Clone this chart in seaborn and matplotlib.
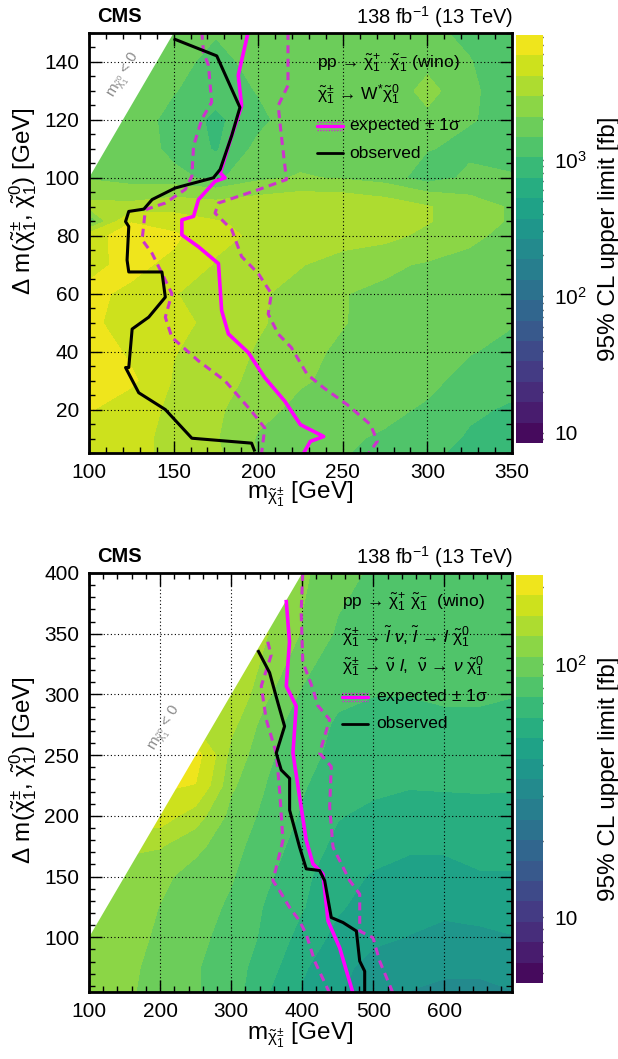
import numpy as np
import matplotlib
matplotlib.use("Agg")
import matplotlib.pyplot as plt
import seaborn as sns
from matplotlib.colors import LogNorm
from matplotlib.ticker import MultipleLocator, FixedLocator, LogLocator, NullFormatter

# ---------------- upper panel: chi+- -> W* chi0 ----------------
top_mass = [100, 125, 150, 175, 200, 225, 250, 275, 300, 325, 350]
top_dm = [5, 10, 20, 30, 40, 50, 60, 70, 80, 85, 90, 100, 110, 120, 130, 140, 150]
top_limit = [
    [4900, 4500, 3800, 3100, 2000, 1700, 1500, 1350, 1150, 900, 850],
    [4900, 4500, 3800, 3000, 2000, 1700, 1550, 1400, 1200, 1000, 900],
    [6000, 4700, 3900, 3100, 2300, 1900, 1700, 1600, 1400, 1100, 1000],
    [8000, 6200, 4000, 3400, 2600, 2150, 1900, 1750, 1600, 1300, 1150],
    [7400, 5400, 4200, 3600, 2800, 2200, 2000, 1850, 1700, 1500, 1350],
    [6200, 5100, 4500, 3800, 3100, 2350, 2100, 1900, 1750, 1650, 1500],
    [6200, 5500, 4200, 3600, 3100, 2500, 2100, 1950, 1800, 1700, 1550],
    [5400, 6300, 5400, 4000, 3500, 3000, 2400, 2200, 2000, 1900, 1750],
    [4900, 7000, 6200, 4500, 3900, 3800, 3500, 3200, 2700, 2200, 1900],
    [1200, 5700, 4900, 4200, 3900, 4000, 3800, 3500, 3000, 2400, 2000],
    [3200, 3200, 3600, 3400, 3600, 3800, 3800, 3500, 3000, 2400, 2000],
    [2000, 1750, 1600, 1350, 1900, 2150, 2000, 1750, 1200, 1600, 1500],
    [1900, 1750, 1350, 1000, 1600, 1750, 1600, 2000, 1500, 1350, 1350],
    [1900, 1750, 1300, 950, 1350, 1750, 1600, 1900, 1900, 1500, 1350],
    [1900, 1750, 1500, 1200, 1500, 1600, 1500, 1600, 2300, 1600, 1100],
    [1900, 1900, 1600, 1350, 1600, 1600, 1600, 1500, 1900, 1500, 1100],
    [1900, 1900, 1750, 1500, 1750, 1750, 1600, 1600, 1600, 1350, 1200],
]
top_obs_mass = [150, 175.5, 189.2, 184.3, 177.5, 173.5, 151, 137.3, 132.4, 123.5, 121.6, 123.5,
                122.5, 123.5, 143.1, 145.1, 135.3, 125.5, 123.5, 121.6, 129.4, 145.1, 160.8, 196.1, 198]
top_obs_dm = [148, 142.1, 124.3, 114.5, 102.9, 100, 96.5, 92.5, 89.2, 88.4, 84.9, 83.2,
              71.6, 67.5, 67.5, 58.8, 51.9, 47.8, 34.5, 34.5, 25.8, 20, 10.1, 8.4, 5.5]
top_exp_mass = [194.1, 188.2, 190.2, 184.3, 177.5, 180.4, 174.5, 164.7, 161.8, 154.9, 154.9, 164.7,
                176.5, 178.4, 182.4, 194.1, 203.9, 215.7, 224.9, 238.7, 230.8, 226.9]
top_exp_dm = [150.4, 135.4, 124.9, 114.5, 101.7, 100, 98.8, 92.5, 86.7, 85.5, 80.3, 76.2,
              70.4, 54.2, 46.1, 39.7, 31, 22.9, 14.8, 10.7, 9, 5]
top_explo_mass = [166.7, 167.6, 170.6, 172.5, 166.7, 161.8, 160.8, 156.9, 145.1, 133.3, 131.4, 137.3,
                  149, 145.1, 149, 164.7, 180.4, 196.1, 203.9, 202]
top_explo_dm = [150.4, 143.5, 138.8, 126.1, 120.3, 111, 100.6, 96, 91.3, 89, 78.6, 73.9,
                60, 51.9, 44.9, 36.8, 29.9, 19.4, 13.6, 5]
top_exphi_mass = [217.6, 217.6, 211.8, 213.7, 216.7, 200, 176.5, 174.5, 184.3, 190.2, 200, 207.8,
                  205.9, 211.8, 219.6, 228.9, 238.7, 252.6, 266.4, 270.4, 265.4]
top_exphi_dm = [150.4, 131.9, 124.9, 114.5, 99.4, 95.9, 91.3, 87.8, 82.2, 72.8, 67, 60,
                53, 46.1, 41.4, 32.2, 27.5, 21.7, 14.8, 9, 5]

# ---------------- lower panel: slepton-mediated ----------------
bot_mass = [100, 150, 200, 250, 300, 350, 400, 450, 500, 550, 600, 650, 700]
bot_dm = [55, 75, 100, 125, 150, 175, 200, 225, 250, 275, 300, 350, 400]
bot_limit = [
    [115, 110, 100, 90, 80, 62, 50, 43, 37, 35, 34, 34, 35],
    [120, 112, 100, 90, 80, 66, 52, 45, 39, 37, 36, 36, 37],
    [125, 118, 102, 92, 84, 70, 57, 48, 44, 42, 40, 40, 42],
    [125, 122, 106, 96, 86, 72, 62, 52, 47, 45, 44, 46, 46],
    [125, 125, 112, 98, 90, 76, 64, 54, 50, 48, 48, 50, 50],
    [130, 130, 130, 112, 94, 80, 68, 58, 54, 52, 52, 54, 54],
    [170, 170, 170, 140, 100, 84, 72, 62, 58, 56, 58, 59, 58],
    [190, 190, 190, 185, 110, 88, 75, 66, 64, 62, 62, 62, 62],
    [200, 200, 200, 200, 120, 92, 78, 70, 66, 64, 66, 66, 64],
    [150, 150, 150, 150, 135, 96, 80, 72, 70, 70, 70, 70, 70],
    [150, 150, 150, 150, 150, 110, 86, 76, 74, 74, 76, 76, 74],
    [130, 130, 130, 130, 130, 130, 105, 86, 80, 78, 78, 80, 78],
    [110, 110, 110, 110, 110, 110, 110, 95, 86, 84, 84, 84, 80],
]
bot_obs_mass = [337.4, 354, 365.7, 375.1, 363.4, 370.4, 382.2, 382.2, 396.2, 405.6, 424.4, 431.5,
                440.8, 457.3, 476.1, 480.8, 487.8, 487.8]
bot_obs_dm = [336.5, 318, 293.1, 273.8, 251.7, 237.8, 230.9, 204.7, 174.3, 156.4, 155, 146.7,
              116.3, 112.2, 105.2, 80.4, 72.1, 54]
bot_exp_mass = [377.3, 382, 377.5, 391.5, 386.9, 396.2, 405.6, 415, 429.1, 436.2, 452.6, 471.4]
bot_exp_dm = [377.9, 343.4, 306.9, 290.3, 251.7, 215.7, 179.8, 160.5, 152.2, 113.5, 91.4, 54]
bot_explo_mass = [351.5, 356.2, 342.3, 349.3, 363.4, 368.1, 372.8, 358.7, 368.1, 382.2, 396.2,
                  405.6, 417.4, 438.5]
bot_explo_dm = [343.4, 332.3, 306.9, 279.3, 251.7, 221.3, 179.8, 146.7, 138.4, 124.6, 113.5,
                102.5, 80.4, 54]
bot_exphi_mass = [400.7, 398.4, 400.7, 414.8, 421.8, 438.5, 424.4, 440.8, 438.5, 443.2, 466.7,
                  480.8, 480.8, 499.5, 508.9, 527.7]
bot_exphi_dm = [400, 368.3, 326.8, 304.7, 290.9, 279.3, 251.7, 240.6, 207.5, 174.3, 146.7,
                135.6, 105.2, 99.7, 80.4, 54]

# ---------------- style ----------------
sns.set_style("ticks")
plt.rcParams['font.family'] = ['Liberation Sans', 'DejaVu Sans']
plt.rcParams['mathtext.fontset'] = 'custom'
plt.rcParams['mathtext.rm'] = 'Liberation Sans'
plt.rcParams['mathtext.it'] = 'Liberation Sans:italic'
plt.rcParams['mathtext.bf'] = 'Liberation Sans:bold'
plt.rcParams['mathtext.sf'] = 'Liberation Sans'
plt.rcParams['mathtext.default'] = 'regular'
for k in ('text.color', 'axes.labelcolor', 'xtick.color', 'ytick.color', 'axes.edgecolor'):
    plt.rcParams[k] = 'black'

MAG = '#ff00ff'
MAGD = '#cc33cc'
TICK_FS = 15
TITLE_FS = 17.5
LEG_FS = 12.5

fig = plt.figure(figsize=(6.18, 10.59), dpi=100)
W, H = 618.0, 1059.0


def fax(x0, y0, x1, y1):
    return [x0 / W, 1 - y1 / H, (x1 - x0) / W, (y1 - y0) / H]


def draw_panel(ax, cax, mass, dm, limit, vmin, vmax, xlim, ylim, curves,
               xmajor, xminor, ymajor, yminor, cbticks, cblabels):
    X, Y = np.meshgrid(np.array(mass, float), np.array(dm, float))
    Z = np.clip(np.array(limit, float), vmin * 1.001, vmax * 0.999)
    levels = np.logspace(np.log10(vmin), np.log10(vmax), 21)
    cs = ax.contourf(X, Y, Z, levels=levels, norm=LogNorm(vmin, vmax),
                     cmap='viridis', zorder=1)
    # kinematically forbidden region (neutralino mass < 0)
    xf = np.array(xlim, float)
    ax.fill_between(xf, xf, ylim[1] + 1000, color='white', zorder=1.5, lw=0)

    for (cx, cy, col, lw, dashed) in curves:
        sns.lineplot(x=cx, y=cy, sort=False, estimator=None, ax=ax, color=col,
                     lw=lw, zorder=4)
        line = ax.lines[-1]
        line.set_solid_capstyle('butt')
        if dashed:
            line.set_dashes((2.6, 1.8))

    ax.set_xlim(*xlim)
    ax.set_ylim(*ylim)
    ax.xaxis.set_major_locator(MultipleLocator(xmajor))
    ax.xaxis.set_minor_locator(MultipleLocator(xminor))
    ax.yaxis.set_major_locator(MultipleLocator(ymajor))
    ax.yaxis.set_minor_locator(MultipleLocator(yminor))
    ax.set_axisbelow(False)
    ax.grid(True, which='major', color='black', lw=0.8, ls=(0, (1, 2.2)), zorder=3)
    ax.tick_params(which='both', direction='in', top=True, right=True,
                   labelsize=TICK_FS, width=1.0, pad=7, colors='black')
    ax.tick_params(which='major', length=9)
    ax.tick_params(which='minor', length=4.5)
    for sp in ax.spines.values():
        sp.set_linewidth(2.0)
        sp.set_color('black')
        sp.set_zorder(5)

    cb = fig.colorbar(cs, cax=cax)
    cb.outline.set_visible(False)
    cax.set_ylim(vmin, vmax)
    cax.yaxis.set_major_locator(FixedLocator(cbticks))
    cax.yaxis.set_major_formatter(matplotlib.ticker.FixedFormatter(cblabels))
    cax.yaxis.set_minor_locator(LogLocator(base=10, subs=np.arange(2, 10)))
    cax.yaxis.set_minor_formatter(NullFormatter())
    cax.tick_params(which='both', direction='in', right=True, left=False,
                    labelsize=TICK_FS, width=1.0, pad=8, colors='black')
    cax.tick_params(which='major', length=11)
    cax.tick_params(which='minor', length=6)
    cb.set_label('95% CL upper limit [fb]', fontsize=TITLE_FS, labelpad=8)
    return cs


# ---------------- upper panel ----------------
ax1 = fig.add_axes(fax(89, 33, 512, 453))
cax1 = fig.add_axes(fax(516, 35, 543, 443))
draw_panel(ax1, cax1, top_mass, top_dm, top_limit, 8.4, 8240, (100, 350), (5, 150),
           [(top_explo_mass, top_explo_dm, MAGD, 2.2, True),
            (top_exphi_mass, top_exphi_dm, MAGD, 2.2, True),
            (top_exp_mass, top_exp_dm, MAG, 2.6, False),
            (top_obs_mass, top_obs_dm, 'black', 2.2, False)],
           50, 10, 20, 5, [10, 100, 1000], ['10', '$10^{2}$', '$10^{3}$'])

# ---------------- lower panel ----------------
ax2 = fig.add_axes(fax(89, 573, 512, 992))
cax2 = fig.add_axes(fax(516, 575, 543, 983))
draw_panel(ax2, cax2, bot_mass, bot_dm, bot_limit, 5.5, 224, (100, 695), (55, 400),
           [(bot_explo_mass, bot_explo_dm, MAGD, 2.2, True),
            (bot_exphi_mass, bot_exphi_dm, MAGD, 2.2, True),
            (bot_exp_mass, bot_exp_dm, MAG, 2.6, False),
            (bot_obs_mass, bot_obs_dm, 'black', 2.2, False)],
           100, 20, 50, 10, [10, 100], ['10', '$10^{2}$'])

ylab = r'$\Delta$ m($\tilde{\chi}^{\pm}_{1}$, $\tilde{\chi}^{0}_{1}$) [GeV]'
xlab = r'm$_{\tilde{\chi}^{\pm}_{1}}$ [GeV]'
for ax, ylc, xlc in [(ax1, 0.60, -0.064), (ax2, 0.53, -0.068)]:
    ax.set_ylabel(ylab, fontsize=TITLE_FS)
    ax.set_xlabel(xlab, fontsize=TITLE_FS)
    ax.yaxis.set_label_coords(-0.118, ylc)
    ax.xaxis.set_label_coords(0.5, xlc)

# headers
for ytop in (17, 557):
    fig.text(97 / W, 1 - ytop / H, 'CMS', fontsize=14.5, fontweight='bold',
             ha='left', va='center')
    fig.text(513 / W, 1 - ytop / H, r'138 fb$^{-1}$ (13 TeV)', fontsize=14.5,
             ha='right', va='center')

# forbidden-region labels
ax1.text(121.3, 135.4, r'm$_{\tilde{\chi}^{0}_{1}}$ < 0', color='#8c8c8c', fontsize=11,
         rotation=59.5, ha='center', va='center', zorder=6)
ax2.text(208, 272, r'm$_{\tilde{\chi}^{0}_{1}}$ < 0', color='#8c8c8c', fontsize=11,
         rotation=59.5, ha='center', va='center', zorder=6)


# legends
def legend_block(ax, xl0, xl1, xt, header, yexp, yobs, dy):
    for txt, yy in header:
        ax.text(xl0, yy, txt, transform=ax.transAxes, fontsize=LEG_FS,
                ha='left', va='center', zorder=7)
    ax.plot([xl0, xl1], [yexp, yexp], transform=ax.transAxes, color=MAG, lw=2.4, zorder=7)
    for s in (-1, 1):
        ax.plot([xl0, xl1], [yexp + s * dy, yexp + s * dy], transform=ax.transAxes,
                color=MAGD, lw=1.0, ls=(0, (1, 1)), zorder=7)
    ax.text(xt, yexp, r'expected $\pm$ 1$\sigma$', transform=ax.transAxes,
            fontsize=LEG_FS, ha='left', va='center', zorder=7)
    ax.plot([xl0, xl1], [yobs, yobs], transform=ax.transAxes, color='black', lw=2.0, zorder=7)
    ax.text(xt, yobs, 'observed', transform=ax.transAxes, fontsize=LEG_FS,
            ha='left', va='center', zorder=7)


legend_block(ax1, 0.539, 0.600, 0.615,
             [(r'pp → $\tilde{\chi}^{+}_{1}$  $\tilde{\chi}^{-}_{1}$ (wino)', 0.929),
              (r'$\tilde{\chi}^{\pm}_{1}$ → W$^{*}\tilde{\chi}^{0}_{1}$', 0.852)],
             0.779, 0.714, 0.0095)
legend_block(ax2, 0.597, 0.660, 0.678,
             [(r'pp → $\tilde{\chi}^{+}_{1}$ $\tilde{\chi}^{-}_{1}$  (wino)', 0.931),
              (r'$\tilde{\chi}^{\pm}_{1}$ → $\tilde{\mathit{l}}$ $\mathit{\nu}$, '
               r'$\tilde{\mathit{l}}$ → $\mathit{l}$ $\tilde{\chi}^{0}_{1}$', 0.848),
              (r'$\tilde{\chi}^{\pm}_{1}$ → $\tilde{\nu}$ $\mathit{l}$,  '
               r'$\tilde{\nu}$ → $\mathit{\nu}$ $\tilde{\chi}^{0}_{1}$', 0.776)],
             0.705, 0.640, 0.0095)

fig.savefig('out.png', dpi=100)
